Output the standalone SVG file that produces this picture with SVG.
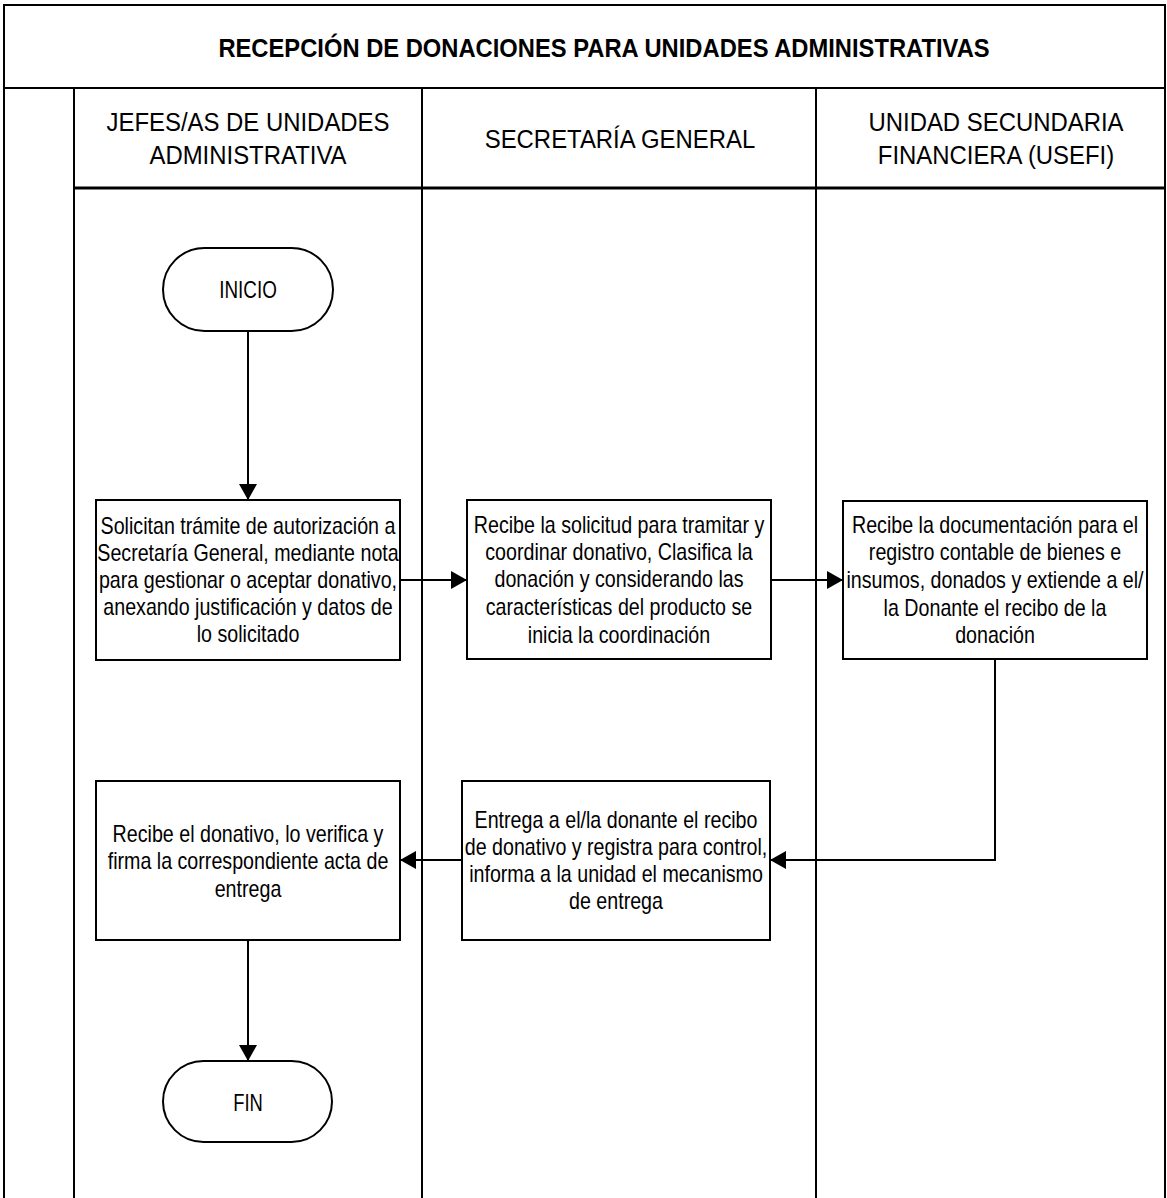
<svg xmlns="http://www.w3.org/2000/svg" width="1167" height="1198" viewBox="0 0 1167 1198">
<style>
.frame{fill:none;stroke:#000;stroke-width:2}
.box{fill:#fff;stroke:#000;stroke-width:2}
.conn{fill:none;stroke:#000;stroke-width:2}
.t{font-family:"Liberation Sans",Arial,sans-serif;font-size:23px;fill:#000;text-anchor:middle}
.h{font-family:"Liberation Sans",Arial,sans-serif;font-size:26px;fill:#000;text-anchor:middle}
.title{font-family:"Liberation Sans",Arial,sans-serif;font-size:25px;font-weight:bold;fill:#000;text-anchor:middle}
</style>
<defs>
<marker id="arr" markerUnits="userSpaceOnUse" markerWidth="18" markerHeight="20" refX="16" refY="9" orient="auto">
<path d="M0,0 L16,9 L0,18 Z" fill="#000"/>
</marker>
</defs>
<rect width="1167" height="1198" fill="#fff"/>
<g id="frame">
<path class="frame" d="M4,1198 V5 H1165 V1198"/>
<line class="frame" x1="4" y1="88" x2="1165" y2="88"/>
<line class="frame" x1="74" y1="88" x2="74" y2="1198"/>
<line class="frame" x1="422" y1="88" x2="422" y2="1198"/>
<line class="frame" x1="816" y1="88" x2="816" y2="1198"/>
<line x1="74" y1="188" x2="1165" y2="188" stroke="#000" stroke-width="3"/>
<g transform="translate(604,0) scale(0.95,1)">
<text class="title" x="0" y="57">RECEPCIÓN DE DONACIONES PARA UNIDADES ADMINISTRATIVAS</text>
</g>
</g>
<g id="lane-headers">
<g transform="translate(248,0) scale(0.92,1)">
<text class="h" x="0" y="131">JEFES/AS DE UNIDADES</text>
<text class="h" x="0" y="164">ADMINISTRATIVA</text>
</g>
<g transform="translate(620,0) scale(0.92,1)">
<text class="h" x="0" y="148">SECRETARÍA GENERAL</text>
</g>
<g transform="translate(996,0) scale(0.92,1)">
<text class="h" x="0" y="131">UNIDAD SECUNDARIA</text>
<text class="h" x="0" y="164">FINANCIERA (USEFI)</text>
</g>
</g>
<g id="connectors">
<line class="conn" x1="248" y1="331" x2="248" y2="500" marker-end="url(#arr)"/>
<line class="conn" x1="400" y1="580" x2="467" y2="580" marker-end="url(#arr)"/>
<line class="conn" x1="771" y1="580" x2="843" y2="580" marker-end="url(#arr)"/>
<path class="conn" d="M995,659 V860 H770" marker-end="url(#arr)"/>
<line class="conn" x1="462" y1="860" x2="400" y2="860" marker-end="url(#arr)"/>
<line class="conn" x1="248" y1="940" x2="248" y2="1061" marker-end="url(#arr)"/>
</g>
<g id="inicio">
<rect class="box" x="163" y="248" width="170" height="83" rx="41.5" ry="41.5"/>
<g transform="translate(248,0) scale(0.82,1)"><text class="t" x="0" y="298">INICIO</text></g>
</g>
<g id="solicitan">
<rect class="box" x="96" y="500" width="304" height="160"/>
<g transform="translate(248,0) scale(0.855,1)">
<text class="t" x="0" y="534">Solicitan trámite de autorización a</text>
<text class="t" x="0" y="561">Secretaría General, mediante nota</text>
<text class="t" x="0" y="588">para gestionar o aceptar donativo,</text>
<text class="t" x="0" y="615">anexando justificación y datos de</text>
<text class="t" x="0" y="642">lo solicitado</text>
</g>
</g>
<g id="recibe-solicitud">
<rect class="box" x="467" y="500" width="304" height="159"/>
<g transform="translate(619,0) scale(0.855,1)">
<text class="t" x="0" y="533">Recibe la solicitud para tramitar y</text>
<text class="t" x="0" y="560">coordinar donativo, Clasifica la</text>
<text class="t" x="0" y="587">donación y considerando las</text>
<text class="t" x="0" y="615">características del producto se</text>
<text class="t" x="0" y="643">inicia la coordinación</text>
</g>
</g>
<g id="recibe-documentacion">
<rect class="box" x="843" y="501" width="304" height="158"/>
<g transform="translate(995,0) scale(0.855,1)">
<text class="t" x="0" y="533">Recibe la documentación para el</text>
<text class="t" x="0" y="560">registro contable de bienes e</text>
<text class="t" x="0" y="588">insumos, donados y extiende a el/</text>
<text class="t" x="0" y="616">la Donante el recibo de la</text>
<text class="t" x="0" y="643">donación</text>
</g>
</g>
<g id="entrega">
<rect class="box" x="462" y="781" width="308" height="159"/>
<g transform="translate(616,0) scale(0.855,1)">
<text class="t" x="0" y="828">Entrega a el/la donante el recibo</text>
<text class="t" x="0" y="855">de donativo y registra para control,</text>
<text class="t" x="0" y="882">informa a la unidad el mecanismo</text>
<text class="t" x="0" y="909">de entrega</text>
</g>
</g>
<g id="recibe-donativo">
<rect class="box" x="96" y="781" width="304" height="159"/>
<g transform="translate(248,0) scale(0.855,1)">
<text class="t" x="0" y="842">Recibe el donativo, lo verifica y</text>
<text class="t" x="0" y="869">firma la correspondiente acta de</text>
<text class="t" x="0" y="897">entrega</text>
</g>
</g>
<g id="fin">
<rect class="box" x="163" y="1061" width="169" height="81" rx="40.5" ry="40.5"/>
<g transform="translate(248,0) scale(0.8,1)"><text class="t" x="0" y="1111">FIN</text></g>
</g>
</svg>
